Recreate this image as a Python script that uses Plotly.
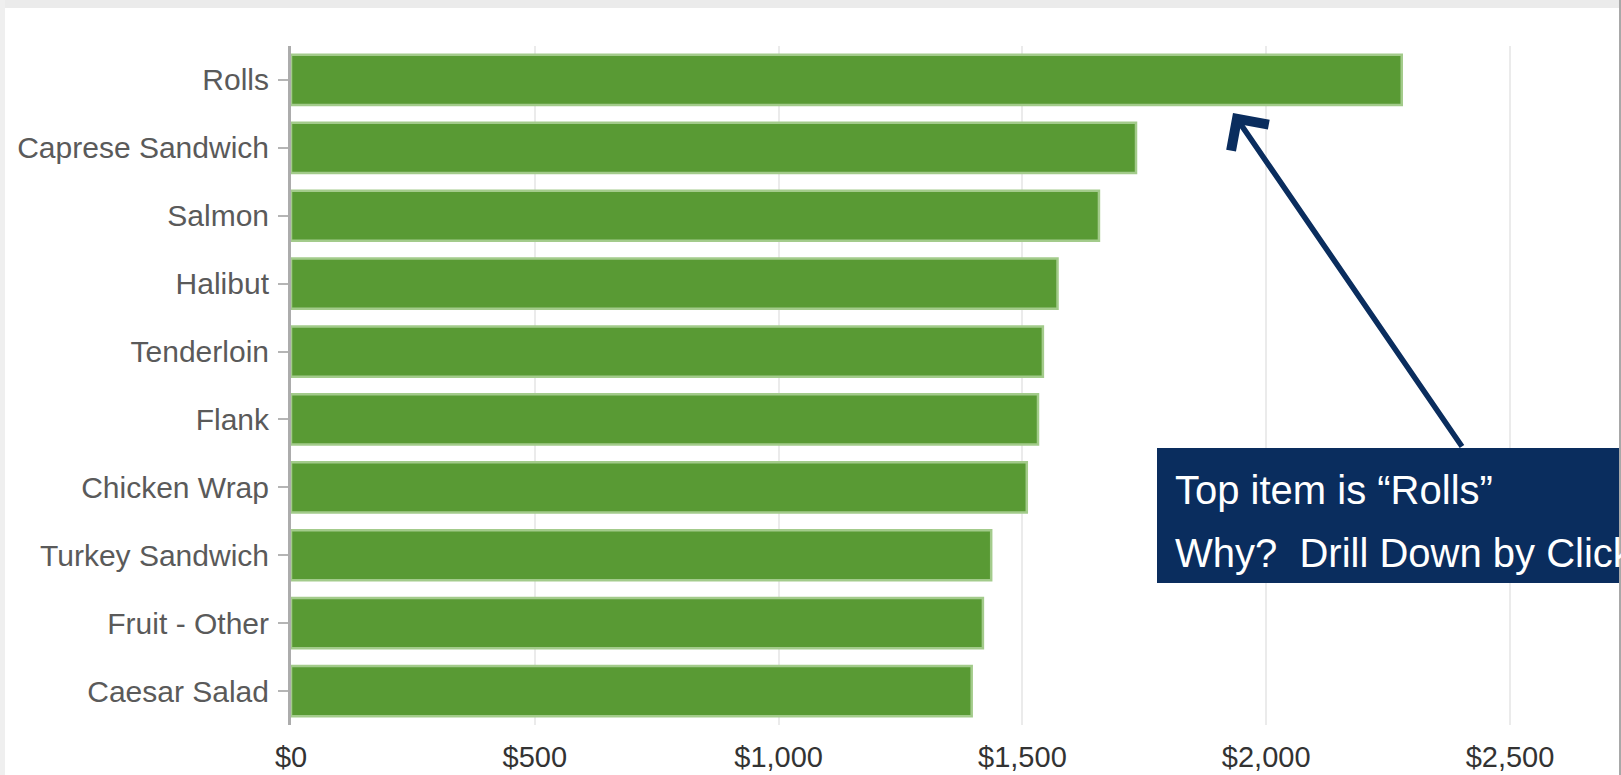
import plotly.graph_objects as go

# ---- data ----
items = ["Rolls", "Caprese Sandwich", "Salmon", "Halibut", "Tenderloin",
         "Flank", "Chicken Wrap", "Turkey Sandwich", "Fruit - Other", "Caesar Salad"]
sales = [2278, 1733, 1657, 1572, 1542, 1532, 1509, 1436, 1419, 1396]
tick_vals = [0, 500, 1000, 1500, 2000, 2500]
tick_text = ["$0", "$500", "$1,000", "$1,500", "$2,000", "$2,500"]
note_lines = ["Top item is \u201cRolls\u201d", "Why?\u00a0 Drill Down by Clicking"]

W, H = 1621, 775
ML, MR, MT, MB = 291, 0, 46, 50
PW, PH = W - ML - MR, H - MT - MB


def px_x(px):
    return (px - ML) / PW


def px_y(py):
    return (H - MB - py) / PH


NAVY = "#0a2d5e"

fig = go.Figure()
fig.add_trace(go.Bar(
    x=sales, y=items, orientation="h",
    marker=dict(color="#599a34", line=dict(color="#a3cb8b", width=2.5)),
    hoverinfo="x+y",
))

shapes = [
    # outer frame shading
    dict(type="rect", xref="paper", yref="paper", x0=px_x(0), x1=px_x(W), y0=px_y(0), y1=px_y(8),
         fillcolor="#ebebeb", line=dict(width=0), layer="below"),
    dict(type="rect", xref="paper", yref="paper", x0=px_x(0), x1=px_x(5), y0=px_y(0), y1=px_y(H),
         fillcolor="#efefef", line=dict(width=0), layer="below"),
    dict(type="rect", xref="paper", yref="paper", x0=px_x(1619), x1=px_x(W), y0=px_y(0), y1=px_y(H),
         fillcolor="#a8a8a8", line=dict(width=0), layer="above"),
    # callout box
    dict(type="rect", xref="paper", yref="paper", x0=px_x(1157), x1=px_x(1619), y0=px_y(583), y1=px_y(448),
         fillcolor=NAVY, line=dict(width=0), layer="above"),
]

annotations = [
    dict(xref="paper", yref="paper", x=px_x(1233), y=px_y(113), text="",
         showarrow=True, arrowhead=4, arrowsize=1.6, arrowwidth=5.5, arrowcolor=NAVY,
         ax=230, ay=335, axref="pixel", ayref="pixel", standoff=0),
    dict(xref="paper", yref="paper", x=px_x(1173), y=px_y(490), text=note_lines[0],
         showarrow=False, xanchor="left", yanchor="middle",
         font=dict(family="Liberation Sans, Arial, sans-serif", size=40, color="white")),
    dict(xref="paper", yref="paper", x=px_x(1173), y=px_y(553), text=note_lines[1],
         showarrow=False, xanchor="left", yanchor="middle",
         font=dict(family="Liberation Sans, Arial, sans-serif", size=40, color="white")),
]

fig.update_layout(
    width=W, height=H,
    margin=dict(l=ML, r=MR, t=MT, b=MB, pad=0, autoexpand=False),
    paper_bgcolor="white", plot_bgcolor="white",
    showlegend=False, bargap=0.26,
    shapes=shapes, annotations=annotations,
    xaxis=dict(range=[0, PW / 0.4876], tickvals=tick_vals, ticktext=tick_text,
               showgrid=True, gridcolor="#ebebeb", gridwidth=2, zeroline=False,
               showline=False, ticks="", ticklabelstandoff=12, automargin=False,
               tickfont=dict(family="Liberation Sans, Arial, sans-serif", size=29, color="#333333"),
               fixedrange=True),
    yaxis=dict(autorange="reversed", showgrid=False, zeroline=False,
               showline=True, linecolor="#acacac", linewidth=3,
               ticks="outside", ticklen=10, tickwidth=2, tickcolor="#b5b5b5",
               ticklabelstandoff=3, automargin=False,
               tickfont=dict(family="Liberation Sans, Arial, sans-serif", size=30, color="#5a5a5a"),
               fixedrange=True),
)

fig.write_html("out.html")
